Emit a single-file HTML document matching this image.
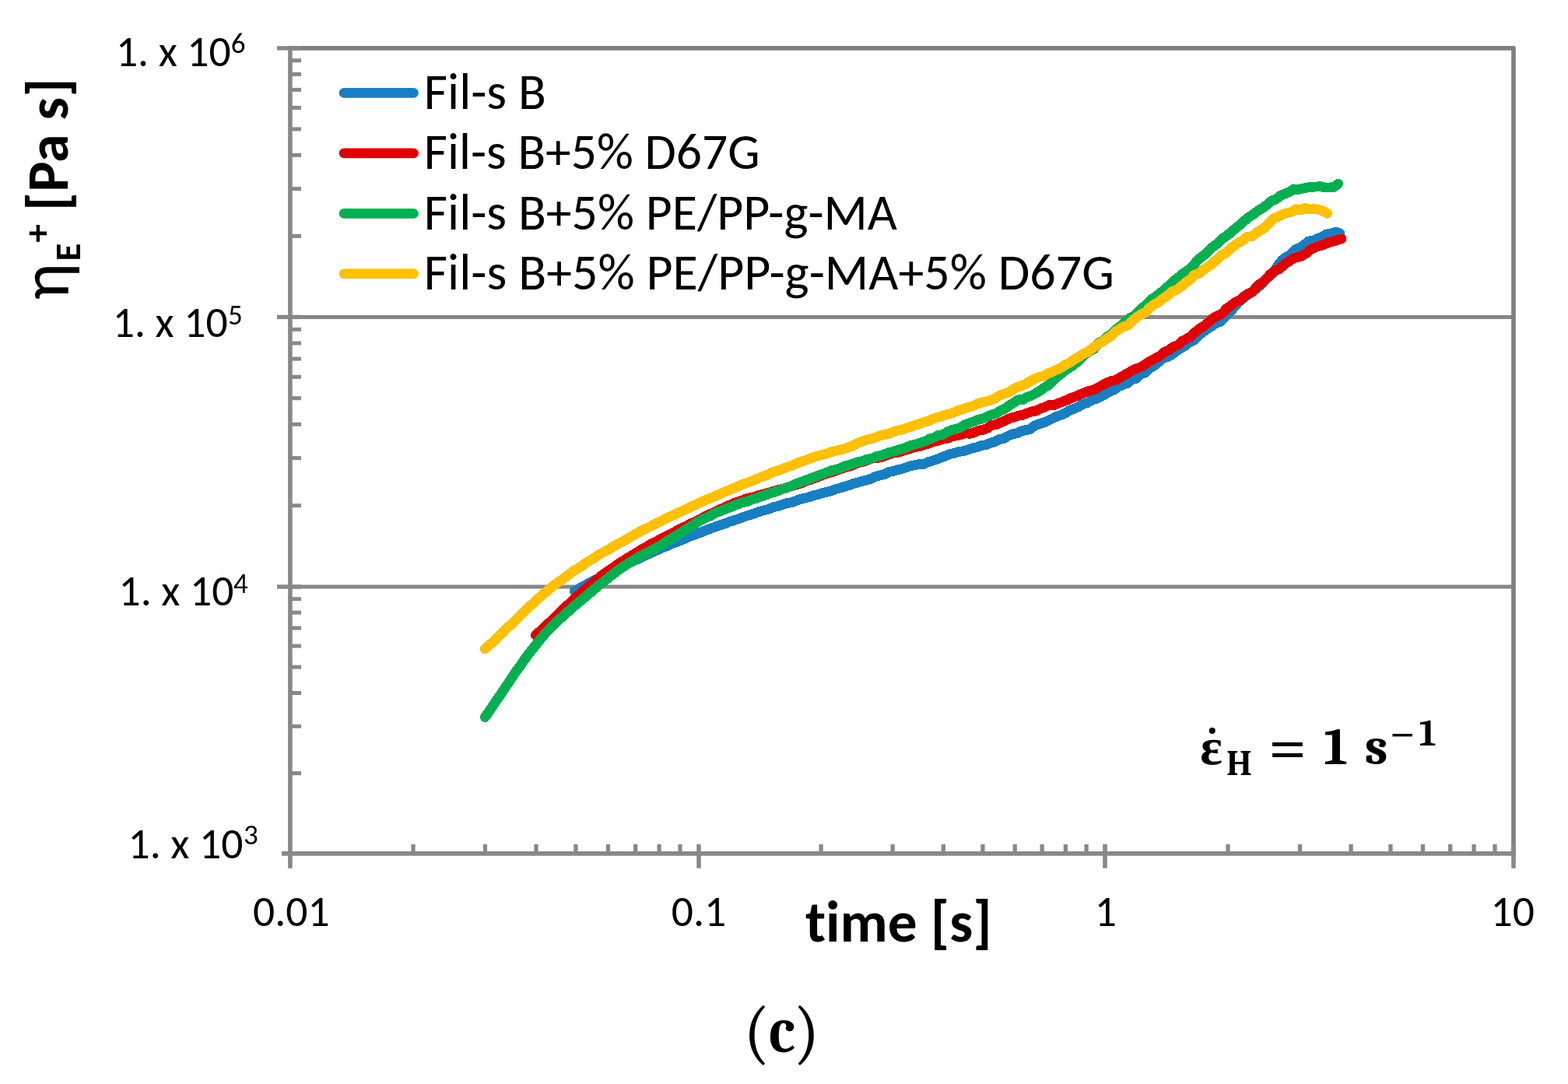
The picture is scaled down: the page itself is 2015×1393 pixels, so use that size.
<!DOCTYPE html>
<html><head><meta charset="utf-8"><title>Transient extensional viscosity</title>
<style>html,body{margin:0;padding:0;background:#fff;overflow:hidden} svg{display:block}</style>
</head><body>
<svg width="2015" height="1393" viewBox="0 0 2015 1393">
<rect x="0" y="0" width="2015" height="1393" fill="#ffffff"/>
<line x1="372.9" y1="407.4" x2="1945" y2="407.4" stroke="#878787" stroke-width="5"/>
<line x1="372.9" y1="754.0" x2="1945" y2="754.0" stroke="#878787" stroke-width="5"/>
<path d="M372.9 61.9 H1945 V1096.9" fill="none" stroke="#808080" stroke-width="5.7" stroke-linejoin="round"/>
<path d="M738.3 759.5 L744.0 756.5 L749.7 753.3 L755.4 750.1 L761.0 747.2 L766.7 744.1 L772.4 741.4 L778.1 738.7 L783.8 735.5 L789.5 732.6 L795.1 730.1 L800.8 727.3 L806.5 724.5 L812.2 721.6 L817.9 719.2 L823.6 716.7 L829.2 713.7 L834.9 711.3 L840.6 708.4 L846.3 706.1 L852.0 703.5 L857.7 701.5 L863.3 698.8 L869.0 696.8 L874.7 694.5 L880.4 692.1 L886.1 689.2 L891.8 687.5 L897.4 685.4 L903.1 683.2 L908.8 680.7 L914.5 678.8 L920.2 676.6 L925.9 674.6 L931.5 673.0 L937.2 670.5 L942.9 668.7 L948.6 667.0 L954.3 664.7 L960.0 662.9 L965.7 661.1 L971.3 659.2 L977.0 657.0 L982.7 655.6 L988.4 654.1 L994.1 651.6 L999.8 650.5 L1005.4 648.6 L1011.1 646.7 L1016.8 645.8 L1022.5 643.8 L1028.2 641.5 L1033.9 640.3 L1039.5 638.8 L1045.2 636.9 L1050.9 635.6 L1056.6 633.7 L1062.3 632.3 L1068.0 630.9 L1073.6 628.6 L1079.3 627.2 L1085.0 625.3 L1090.7 623.8 L1096.4 621.6 L1102.1 620.0 L1107.7 618.4 L1113.4 617.1 L1119.1 615.4 L1124.8 612.5 L1130.5 610.9 L1136.2 609.7 L1141.9 606.7 L1147.5 605.5 L1153.2 603.8 L1158.9 602.6 L1164.6 600.7 L1170.3 598.8 L1176.0 597.6 L1181.6 596.6 L1187.3 596.3 L1193.0 593.7 L1198.7 591.9 L1204.4 590.1 L1210.1 587.7 L1215.7 585.7 L1221.4 583.3 L1227.1 582.2 L1232.8 580.3 L1238.5 579.6 L1244.2 577.8 L1249.8 575.8 L1255.5 574.7 L1261.2 572.5 L1266.9 571.7 L1272.6 569.3 L1278.3 567.8 L1283.9 564.7 L1289.6 563.7 L1295.3 560.3 L1301.0 557.9 L1306.7 556.8 L1312.4 554.2 L1318.0 552.6 L1323.7 551.7 L1329.4 547.2 L1335.1 544.9 L1340.8 543.1 L1346.5 540.8 L1352.2 537.9 L1357.8 535.3 L1363.5 533.4 L1369.2 530.7 L1374.9 527.0 L1380.6 525.1 L1386.3 522.5 L1391.9 519.1 L1397.6 517.4 L1403.3 513.9 L1409.0 512.5 L1414.7 509.3 L1420.4 506.5 L1426.0 503.2 L1431.7 500.9 L1437.4 496.6 L1443.1 494.5 L1448.8 492.7 L1454.5 487.6 L1460.1 486.6 L1465.8 480.8 L1471.5 478.9 L1477.2 473.3 L1482.9 470.2 L1488.6 465.5 L1494.2 460.2 L1499.9 459.0 L1505.6 455.9 L1511.3 451.4 L1517.0 447.9 L1522.7 444.5 L1528.4 439.9 L1534.0 437.4 L1539.7 431.4 L1545.4 427.4 L1551.1 422.7 L1556.8 419.3 L1562.5 415.2 L1568.1 413.6 L1573.8 407.3 L1579.5 402.4 L1585.2 395.5 L1590.9 389.0 L1596.6 384.4 L1602.2 379.7 L1607.9 376.1 L1613.6 371.5 L1619.3 367.0 L1625.0 360.8 L1630.7 355.3 L1636.3 350.8 L1642.0 341.3 L1647.7 334.2 L1653.4 330.1 L1659.1 327.0 L1664.8 320.5 L1670.4 318.5 L1676.1 314.5 L1681.8 309.9 L1687.5 309.8 L1693.2 306.6 L1698.9 304.5 L1704.5 301.1 L1710.2 300.3 L1715.9 298.1 L1721.6 299.8" fill="none" stroke="#177FC1" stroke-width="12.8" stroke-linecap="round" stroke-linejoin="round" shape-rendering="crispEdges"/>
<path d="M688.5 816.3 L694.2 810.9 L699.9 806.1 L705.6 800.4 L711.3 795.2 L716.9 789.6 L722.6 784.1 L728.3 778.6 L734.0 773.4 L739.7 768.0 L745.4 762.8 L751.1 757.8 L756.8 753.2 L762.5 748.4 L768.2 743.8 L773.8 739.2 L779.5 734.9 L785.2 731.3 L790.9 727.3 L796.6 723.2 L802.3 719.7 L808.0 716.1 L813.7 712.7 L819.4 709.3 L825.0 705.7 L830.7 702.9 L836.4 699.1 L842.1 696.5 L847.8 693.4 L853.5 690.5 L859.2 687.8 L864.9 684.8 L870.6 681.3 L876.3 678.4 L881.9 676.2 L887.6 672.9 L893.3 670.4 L899.0 667.8 L904.7 664.3 L910.4 661.4 L916.1 659.2 L921.8 656.4 L927.5 653.7 L933.2 651.2 L938.8 648.5 L944.5 646.0 L950.2 644.2 L955.9 642.1 L961.6 640.1 L967.3 639.0 L973.0 637.2 L978.7 635.8 L984.4 634.0 L990.0 632.5 L995.7 630.9 L1001.4 629.3 L1007.1 627.9 L1012.8 625.9 L1018.5 624.4 L1024.2 622.5 L1029.9 621.0 L1035.6 618.0 L1041.3 616.7 L1046.9 614.4 L1052.6 612.3 L1058.3 609.8 L1064.0 608.1 L1069.7 606.5 L1075.4 604.3 L1081.1 602.4 L1086.8 600.4 L1092.5 599.1 L1098.1 596.9 L1103.8 594.3 L1109.5 593.3 L1115.2 591.1 L1120.9 589.0 L1126.6 588.5 L1132.3 587.7 L1138.0 585.5 L1143.7 583.4 L1149.4 581.9 L1155.0 581.2 L1160.7 579.2 L1166.4 577.5 L1172.1 575.8 L1177.8 574.2 L1183.5 573.0 L1189.2 571.2 L1194.9 569.4 L1200.6 567.0 L1206.2 566.2 L1211.9 564.0 L1217.6 563.4 L1223.3 560.7 L1229.0 559.9 L1234.7 558.7 L1240.4 556.7 L1246.1 557.3 L1251.8 555.9 L1257.5 553.3 L1263.1 552.4 L1268.8 550.3 L1274.5 546.2 L1280.2 545.6 L1285.9 542.9 L1291.6 540.6 L1297.3 537.7 L1303.0 536.1 L1308.7 534.2 L1314.4 533.3 L1320.0 530.9 L1325.7 528.9 L1331.4 528.2 L1337.1 524.9 L1342.8 523.2 L1348.5 520.3 L1354.2 520.7 L1359.9 518.3 L1365.6 516.2 L1371.2 514.0 L1376.9 511.4 L1382.6 509.3 L1388.3 506.8 L1394.0 504.5 L1399.7 502.4 L1405.4 501.1 L1411.1 498.0 L1416.8 495.0 L1422.5 492.1 L1428.1 489.4 L1433.8 488.5 L1439.5 485.0 L1445.2 481.8 L1450.9 478.7 L1456.6 475.2 L1462.3 473.1 L1468.0 470.8 L1473.7 466.7 L1479.3 463.6 L1485.0 460.4 L1490.7 457.3 L1496.4 452.4 L1502.1 450.0 L1507.8 445.8 L1513.5 443.6 L1519.2 438.3 L1524.9 435.5 L1530.6 432.3 L1536.2 426.6 L1541.9 422.1 L1547.6 418.6 L1553.3 414.1 L1559.0 408.9 L1564.7 405.9 L1570.4 403.0 L1576.1 396.8 L1581.8 392.8 L1587.5 388.2 L1593.1 385.9 L1598.8 380.8 L1604.5 377.1 L1610.2 374.8 L1615.9 367.3 L1621.6 363.4 L1627.3 358.1 L1633.0 351.9 L1638.7 347.9 L1644.3 345.6 L1650.0 340.1 L1655.7 336.4 L1661.4 332.3 L1667.1 330.6 L1672.8 329.1 L1678.5 325.6 L1684.2 320.7 L1689.9 318.0 L1695.6 315.9 L1701.2 314.5 L1706.9 311.7 L1712.6 310.3 L1718.3 308.7 L1724.0 306.9" fill="none" stroke="#E00000" stroke-width="12.8" stroke-linecap="round" stroke-linejoin="round" shape-rendering="crispEdges"/>
<path d="M623.3 921.7 L629.0 913.5 L634.7 905.0 L640.4 896.7 L646.1 888.4 L651.8 879.8 L657.6 871.3 L663.3 862.7 L669.0 854.9 L674.7 846.6 L680.4 838.9 L686.1 831.9 L691.8 824.7 L697.5 817.8 L703.2 811.1 L708.9 805.4 L714.7 799.7 L720.4 794.5 L726.1 789.7 L731.8 784.3 L737.5 779.3 L743.2 774.4 L748.9 769.8 L754.6 765.0 L760.3 759.9 L766.0 755.3 L771.8 750.3 L777.5 746.0 L783.2 741.5 L788.9 737.1 L794.6 732.5 L800.3 728.8 L806.0 724.9 L811.7 721.4 L817.4 718.1 L823.1 714.7 L828.9 711.6 L834.6 709.0 L840.3 705.7 L846.0 702.6 L851.7 699.4 L857.4 695.3 L863.1 692.0 L868.8 688.5 L874.5 684.9 L880.2 681.1 L886.0 677.8 L891.7 674.1 L897.4 670.4 L903.1 667.3 L908.8 664.7 L914.5 661.9 L920.2 658.6 L925.9 657.0 L931.6 654.4 L937.3 652.4 L943.1 649.8 L948.8 647.8 L954.5 645.6 L960.2 644.6 L965.9 642.0 L971.6 640.6 L977.3 638.1 L983.0 636.5 L988.7 634.0 L994.4 632.5 L1000.2 630.8 L1005.9 628.1 L1011.6 626.7 L1017.3 624.3 L1023.0 621.7 L1028.7 619.7 L1034.4 617.6 L1040.1 615.5 L1045.8 613.3 L1051.5 611.1 L1057.3 609.1 L1063.0 606.8 L1068.7 604.7 L1074.4 603.2 L1080.1 601.6 L1085.8 598.8 L1091.5 597.5 L1097.2 595.5 L1102.9 593.6 L1108.6 592.5 L1114.4 590.2 L1120.1 589.3 L1125.8 586.7 L1131.5 585.4 L1137.2 583.4 L1142.9 581.4 L1148.6 580.3 L1154.3 578.1 L1160.0 576.7 L1165.7 574.5 L1171.4 572.2 L1177.2 570.7 L1182.9 568.8 L1188.6 567.3 L1194.3 564.2 L1200.0 562.5 L1205.7 559.5 L1211.4 558.5 L1217.1 555.3 L1222.8 552.6 L1228.5 551.3 L1234.3 549.6 L1240.0 545.8 L1245.7 543.7 L1251.4 541.7 L1257.1 539.3 L1262.8 538.1 L1268.5 535.2 L1274.2 533.0 L1279.9 531.3 L1285.6 527.7 L1291.4 525.3 L1297.1 521.0 L1302.8 517.4 L1308.5 513.9 L1314.2 513.8 L1319.9 510.2 L1325.6 508.3 L1331.3 505.3 L1337.0 501.8 L1342.7 497.6 L1348.5 494.5 L1354.2 487.9 L1359.9 483.0 L1365.6 478.9 L1371.3 474.1 L1377.0 471.0 L1382.7 466.5 L1388.4 460.6 L1394.1 455.7 L1399.8 451.8 L1405.6 448.5 L1411.3 440.7 L1417.0 438.6 L1422.7 432.7 L1428.4 429.7 L1434.1 423.4 L1439.8 419.3 L1445.5 413.6 L1451.2 409.3 L1456.9 406.4 L1462.7 401.2 L1468.4 395.5 L1474.1 390.3 L1479.8 384.6 L1485.5 381.0 L1491.2 376.5 L1496.9 371.6 L1502.6 366.7 L1508.3 360.9 L1514.0 356.9 L1519.8 352.0 L1525.5 348.2 L1531.2 343.7 L1536.9 336.9 L1542.6 331.4 L1548.3 327.0 L1554.0 321.5 L1559.7 316.4 L1565.4 312.1 L1571.1 306.3 L1576.9 303.0 L1582.6 297.6 L1588.3 293.3 L1594.0 288.3 L1599.7 283.3 L1605.4 278.7 L1611.1 275.1 L1616.8 270.6 L1622.5 267.3 L1628.2 263.2 L1634.0 258.1 L1639.7 256.0 L1645.4 251.3 L1651.1 249.1 L1656.8 246.9 L1662.5 242.9 L1668.2 243.5 L1673.9 242.2 L1679.6 241.0 L1685.3 240.2 L1691.1 240.1 L1696.8 239.6 L1702.5 241.0 L1708.2 241.0 L1713.9 240.5 L1719.6 236.2" fill="none" stroke="#00B050" stroke-width="12.8" stroke-linecap="round" stroke-linejoin="round" shape-rendering="crispEdges"/>
<path d="M623.3 834.0 L629.0 828.9 L634.7 823.6 L640.4 818.2 L646.1 812.9 L651.8 807.0 L657.5 801.8 L663.2 796.2 L668.9 790.7 L674.6 785.2 L680.3 779.6 L686.0 774.3 L691.6 769.3 L697.3 764.3 L703.0 759.4 L708.7 754.5 L714.4 750.4 L720.1 746.3 L725.8 742.1 L731.5 738.0 L737.2 733.7 L742.9 730.4 L748.6 726.5 L754.3 722.4 L760.0 719.4 L765.7 715.4 L771.4 712.0 L777.1 708.7 L782.8 705.8 L788.5 702.1 L794.2 699.0 L799.9 696.1 L805.6 692.9 L811.3 689.4 L817.0 686.3 L822.7 683.0 L828.3 680.1 L834.0 677.5 L839.7 674.5 L845.4 671.6 L851.1 669.0 L856.8 665.8 L862.5 663.2 L868.2 660.7 L873.9 658.0 L879.6 655.4 L885.3 652.6 L891.0 649.9 L896.7 647.5 L902.4 644.6 L908.1 641.9 L913.8 640.0 L919.5 637.4 L925.2 635.0 L930.9 632.1 L936.6 630.1 L942.3 627.6 L948.0 625.2 L953.7 622.5 L959.4 620.7 L965.0 618.7 L970.7 616.3 L976.4 613.8 L982.1 611.7 L987.8 609.6 L993.5 606.4 L999.2 604.9 L1004.9 602.9 L1010.6 600.7 L1016.3 598.8 L1022.0 596.5 L1027.7 594.1 L1033.4 592.0 L1039.1 590.1 L1044.8 587.7 L1050.5 586.0 L1056.2 584.5 L1061.9 583.1 L1067.6 580.9 L1073.3 579.5 L1079.0 578.2 L1084.7 577.0 L1090.4 574.7 L1096.1 573.0 L1101.7 569.6 L1107.4 567.5 L1113.1 565.4 L1118.8 564.1 L1124.5 562.6 L1130.2 560.0 L1135.9 558.7 L1141.6 557.6 L1147.3 555.4 L1153.0 553.2 L1158.7 552.6 L1164.4 550.4 L1170.1 548.6 L1175.8 546.2 L1181.5 545.0 L1187.2 542.4 L1192.9 541.2 L1198.6 538.3 L1204.3 536.4 L1210.0 535.1 L1215.7 532.8 L1221.4 531.7 L1227.1 529.5 L1232.7 527.0 L1238.4 525.6 L1244.1 523.4 L1249.8 522.1 L1255.5 519.2 L1261.2 517.2 L1266.9 516.1 L1272.6 514.5 L1278.3 512.1 L1284.0 508.5 L1289.7 506.2 L1295.4 504.6 L1301.1 500.9 L1306.8 497.8 L1312.5 495.9 L1318.2 493.5 L1323.9 490.0 L1329.6 486.9 L1335.3 484.5 L1341.0 483.5 L1346.7 479.9 L1352.4 477.7 L1358.1 475.1 L1363.8 472.4 L1369.4 468.6 L1375.1 466.0 L1380.8 461.6 L1386.5 458.5 L1392.2 454.5 L1397.9 452.4 L1403.6 447.8 L1409.3 443.5 L1415.0 439.9 L1420.7 436.1 L1426.4 432.9 L1432.1 427.0 L1437.8 423.4 L1443.5 419.9 L1449.2 418.1 L1454.9 412.7 L1460.6 407.7 L1466.3 404.2 L1472.0 401.2 L1477.7 395.2 L1483.4 390.9 L1489.1 388.1 L1494.8 383.4 L1500.5 379.5 L1506.1 374.4 L1511.8 372.5 L1517.5 368.4 L1523.2 363.4 L1528.9 359.6 L1534.6 353.2 L1540.3 351.6 L1546.0 346.8 L1551.7 343.2 L1557.4 339.2 L1563.1 334.0 L1568.8 328.3 L1574.5 325.6 L1580.2 320.0 L1585.9 316.1 L1591.6 312.0 L1597.3 308.9 L1603.0 303.9 L1608.7 304.0 L1614.4 299.2 L1620.1 295.8 L1625.8 292.2 L1631.5 286.2 L1637.2 280.7 L1642.8 278.4 L1648.5 275.3 L1654.2 273.7 L1659.9 272.3 L1665.6 268.7 L1671.3 270.1 L1677.0 267.4 L1682.7 269.1 L1688.4 268.7 L1694.1 269.2 L1699.8 271.2 L1705.5 274.3" fill="none" stroke="#FFC000" stroke-width="12.8" stroke-linecap="round" stroke-linejoin="round" shape-rendering="crispEdges"/>
<line x1="372.9" y1="59" x2="372.9" y2="1115.7" stroke="#888888" stroke-width="5.6"/>
<line x1="362" y1="1096.9" x2="1947.8" y2="1096.9" stroke="#888888" stroke-width="5.6"/>
<line x1="356" y1="61.9" x2="387" y2="61.9" stroke="#888888" stroke-width="5.4"/>
<line x1="356" y1="407.4" x2="387" y2="407.4" stroke="#888888" stroke-width="5.4"/>
<line x1="356" y1="754.0" x2="387" y2="754.0" stroke="#888888" stroke-width="5.4"/>
<line x1="372.9" y1="303.4" x2="387" y2="303.4" stroke="#888888" stroke-width="5"/>
<line x1="372.9" y1="242.6" x2="387" y2="242.6" stroke="#888888" stroke-width="5"/>
<line x1="372.9" y1="199.4" x2="387" y2="199.4" stroke="#888888" stroke-width="5"/>
<line x1="372.9" y1="165.9" x2="387" y2="165.9" stroke="#888888" stroke-width="5"/>
<line x1="372.9" y1="138.5" x2="387" y2="138.5" stroke="#888888" stroke-width="5"/>
<line x1="372.9" y1="115.4" x2="387" y2="115.4" stroke="#888888" stroke-width="5"/>
<line x1="372.9" y1="95.4" x2="387" y2="95.4" stroke="#888888" stroke-width="5"/>
<line x1="372.9" y1="77.7" x2="387" y2="77.7" stroke="#888888" stroke-width="5"/>
<line x1="372.9" y1="649.7" x2="387" y2="649.7" stroke="#888888" stroke-width="5"/>
<line x1="372.9" y1="588.6" x2="387" y2="588.6" stroke="#888888" stroke-width="5"/>
<line x1="372.9" y1="545.3" x2="387" y2="545.3" stroke="#888888" stroke-width="5"/>
<line x1="372.9" y1="511.7" x2="387" y2="511.7" stroke="#888888" stroke-width="5"/>
<line x1="372.9" y1="484.3" x2="387" y2="484.3" stroke="#888888" stroke-width="5"/>
<line x1="372.9" y1="461.1" x2="387" y2="461.1" stroke="#888888" stroke-width="5"/>
<line x1="372.9" y1="441.0" x2="387" y2="441.0" stroke="#888888" stroke-width="5"/>
<line x1="372.9" y1="423.3" x2="387" y2="423.3" stroke="#888888" stroke-width="5"/>
<line x1="372.9" y1="993.7" x2="387" y2="993.7" stroke="#888888" stroke-width="5"/>
<line x1="372.9" y1="933.3" x2="387" y2="933.3" stroke="#888888" stroke-width="5"/>
<line x1="372.9" y1="890.5" x2="387" y2="890.5" stroke="#888888" stroke-width="5"/>
<line x1="372.9" y1="857.2" x2="387" y2="857.2" stroke="#888888" stroke-width="5"/>
<line x1="372.9" y1="830.1" x2="387" y2="830.1" stroke="#888888" stroke-width="5"/>
<line x1="372.9" y1="807.1" x2="387" y2="807.1" stroke="#888888" stroke-width="5"/>
<line x1="372.9" y1="787.2" x2="387" y2="787.2" stroke="#888888" stroke-width="5"/>
<line x1="372.9" y1="769.7" x2="387" y2="769.7" stroke="#888888" stroke-width="5"/>
<line x1="898.0" y1="1085" x2="898.0" y2="1115.7" stroke="#888888" stroke-width="5.6"/>
<line x1="1420.0" y1="1085" x2="1420.0" y2="1115.7" stroke="#888888" stroke-width="5.6"/>
<line x1="1945.0" y1="1085" x2="1945.0" y2="1115.7" stroke="#888888" stroke-width="5.6"/>
<line x1="531.0" y1="1085" x2="531.0" y2="1096.9" stroke="#888888" stroke-width="5.3"/>
<line x1="623.4" y1="1085" x2="623.4" y2="1096.9" stroke="#888888" stroke-width="5.3"/>
<line x1="689.0" y1="1085" x2="689.0" y2="1096.9" stroke="#888888" stroke-width="5.3"/>
<line x1="739.9" y1="1085" x2="739.9" y2="1096.9" stroke="#888888" stroke-width="5.3"/>
<line x1="781.5" y1="1085" x2="781.5" y2="1096.9" stroke="#888888" stroke-width="5.3"/>
<line x1="816.7" y1="1085" x2="816.7" y2="1096.9" stroke="#888888" stroke-width="5.3"/>
<line x1="847.1" y1="1085" x2="847.1" y2="1096.9" stroke="#888888" stroke-width="5.3"/>
<line x1="874.0" y1="1085" x2="874.0" y2="1096.9" stroke="#888888" stroke-width="5.3"/>
<line x1="1055.1" y1="1085" x2="1055.1" y2="1096.9" stroke="#888888" stroke-width="5.3"/>
<line x1="1147.1" y1="1085" x2="1147.1" y2="1096.9" stroke="#888888" stroke-width="5.3"/>
<line x1="1212.3" y1="1085" x2="1212.3" y2="1096.9" stroke="#888888" stroke-width="5.3"/>
<line x1="1262.9" y1="1085" x2="1262.9" y2="1096.9" stroke="#888888" stroke-width="5.3"/>
<line x1="1304.2" y1="1085" x2="1304.2" y2="1096.9" stroke="#888888" stroke-width="5.3"/>
<line x1="1339.1" y1="1085" x2="1339.1" y2="1096.9" stroke="#888888" stroke-width="5.3"/>
<line x1="1369.4" y1="1085" x2="1369.4" y2="1096.9" stroke="#888888" stroke-width="5.3"/>
<line x1="1396.1" y1="1085" x2="1396.1" y2="1096.9" stroke="#888888" stroke-width="5.3"/>
<line x1="1578.0" y1="1085" x2="1578.0" y2="1096.9" stroke="#888888" stroke-width="5.3"/>
<line x1="1670.5" y1="1085" x2="1670.5" y2="1096.9" stroke="#888888" stroke-width="5.3"/>
<line x1="1736.1" y1="1085" x2="1736.1" y2="1096.9" stroke="#888888" stroke-width="5.3"/>
<line x1="1787.0" y1="1085" x2="1787.0" y2="1096.9" stroke="#888888" stroke-width="5.3"/>
<line x1="1828.5" y1="1085" x2="1828.5" y2="1096.9" stroke="#888888" stroke-width="5.3"/>
<line x1="1863.7" y1="1085" x2="1863.7" y2="1096.9" stroke="#888888" stroke-width="5.3"/>
<line x1="1894.1" y1="1085" x2="1894.1" y2="1096.9" stroke="#888888" stroke-width="5.3"/>
<line x1="1921.0" y1="1085" x2="1921.0" y2="1096.9" stroke="#888888" stroke-width="5.3"/>
<text x="148.9" y="84.9" font-family="Carlito, 'Liberation Sans', sans-serif" font-size="55.6" fill="#000" textLength="147.78" lengthAdjust="spacingAndGlyphs">1. x 10</text>
<text x="296.8" y="67.5" font-family="Carlito, 'Liberation Sans', sans-serif" font-size="37" fill="#000" textLength="18.77" lengthAdjust="spacingAndGlyphs">6</text>
<text x="144.8" y="432.9" font-family="Carlito, 'Liberation Sans', sans-serif" font-size="55.6" fill="#000" textLength="147.78" lengthAdjust="spacingAndGlyphs">1. x 10</text>
<text x="293.0" y="416.8" font-family="Carlito, 'Liberation Sans', sans-serif" font-size="37" fill="#000" textLength="18.77" lengthAdjust="spacingAndGlyphs">5</text>
<text x="152.6" y="777.9" font-family="Carlito, 'Liberation Sans', sans-serif" font-size="55.6" fill="#000" textLength="147.78" lengthAdjust="spacingAndGlyphs">1. x 10</text>
<text x="300.0" y="762.0" font-family="Carlito, 'Liberation Sans', sans-serif" font-size="37" fill="#000" textLength="18.77" lengthAdjust="spacingAndGlyphs">4</text>
<text x="164.6" y="1102.7" font-family="Carlito, 'Liberation Sans', sans-serif" font-size="55.6" fill="#000" textLength="147.78" lengthAdjust="spacingAndGlyphs">1. x 10</text>
<text x="313.0" y="1085.2" font-family="Carlito, 'Liberation Sans', sans-serif" font-size="37" fill="#000" textLength="18.77" lengthAdjust="spacingAndGlyphs">3</text>
<text x="325.0" y="1190" font-family="Carlito, 'Liberation Sans', sans-serif" font-size="55.6" fill="#000" textLength="98.58" lengthAdjust="spacingAndGlyphs">0.01</text>
<text x="862.8" y="1190" font-family="Carlito, 'Liberation Sans', sans-serif" font-size="55.6" fill="#000" textLength="70.39" lengthAdjust="spacingAndGlyphs">0.1</text>
<text x="1406.8" y="1190" font-family="Carlito, 'Liberation Sans', sans-serif" font-size="55.6" fill="#000" textLength="28.19" lengthAdjust="spacingAndGlyphs">1</text>
<text x="1915.5" y="1190" font-family="Carlito, 'Liberation Sans', sans-serif" font-size="55.6" fill="#000" textLength="56.36" lengthAdjust="spacingAndGlyphs">10</text>
<text x="1035" y="1209.9" font-family="Carlito, 'Liberation Sans', sans-serif" font-weight="bold" font-size="75.3" style="font-variant-ligatures:none;font-feature-settings:'liga' 0" fill="#000" textLength="239.72" lengthAdjust="spacingAndGlyphs">time [s]</text>
<g transform="translate(87.5,383.4) rotate(-90)" font-family="Carlito, 'Liberation Sans', sans-serif" fill="#000"><text x="-2" y="0" font-size="88" textLength="47.27" lengthAdjust="spacingAndGlyphs">η</text><text x="47.9" y="15.3" font-weight="bold" font-size="47" textLength="22.94" lengthAdjust="spacingAndGlyphs">E</text><text x="71.8" y="-23.5" font-weight="bold" font-size="47" textLength="23.42" lengthAdjust="spacingAndGlyphs">+</text><text x="112.5" y="-0.5" font-weight="bold" font-size="74" textLength="98.50" lengthAdjust="spacingAndGlyphs">[Pa</text><text x="229" y="-0.5" font-weight="bold" font-size="74" textLength="29.53" lengthAdjust="spacingAndGlyphs">s</text><text x="259" y="-0.5" font-weight="bold" font-size="74" textLength="24.03" lengthAdjust="spacingAndGlyphs">]</text></g>
<line x1="442" y1="119.4" x2="531.5" y2="119.4" stroke="#177FC1" stroke-width="12.6" stroke-linecap="round"/>
<text x="544.8" y="139.9" font-family="Carlito, 'Liberation Sans', sans-serif" font-size="65.8" fill="#000" textLength="156.98" lengthAdjust="spacingAndGlyphs">Fil-s B</text>
<line x1="442" y1="196.9" x2="531.5" y2="196.9" stroke="#E00000" stroke-width="12.6" stroke-linecap="round"/>
<text x="544.8" y="217.4" font-family="Carlito, 'Liberation Sans', sans-serif" font-size="65.8" fill="#000" textLength="431.8" lengthAdjust="spacingAndGlyphs">Fil-s B+5% D67G</text>
<line x1="442" y1="274.4" x2="531.5" y2="274.4" stroke="#00B050" stroke-width="12.6" stroke-linecap="round"/>
<text x="544.8" y="294.9" font-family="Carlito, 'Liberation Sans', sans-serif" font-size="65.8" fill="#000" textLength="608.14" lengthAdjust="spacingAndGlyphs">Fil-s B+5% PE/PP-g-MA</text>
<line x1="442" y1="351.9" x2="531.5" y2="351.9" stroke="#FFC000" stroke-width="12.6" stroke-linecap="round"/>
<text x="544.8" y="372.4" font-family="Carlito, 'Liberation Sans', sans-serif" font-size="65.8" fill="#000" textLength="887.0" lengthAdjust="spacingAndGlyphs">Fil-s B+5% PE/PP-g-MA+5% D67G</text>
<text x="1542.3" y="982.1" font-family="'Liberation Serif', serif" font-weight="bold" font-size="67" fill="#000" textLength="28.64" lengthAdjust="spacingAndGlyphs">ε</text>
<circle cx="1557.8" cy="939.1" r="4" fill="#000"/>
<text x="1576" y="996" font-family="Caladea, 'Liberation Serif', serif" font-weight="bold" font-size="46" fill="#000" textLength="33.08" lengthAdjust="spacingAndGlyphs">H</text>
<text x="1629.6" y="990.5" font-family="Caladea, 'Liberation Serif', serif" font-size="96" textLength="50" lengthAdjust="spacingAndGlyphs" fill="#000">=</text>
<text x="1701.3" y="982.1" font-family="Caladea, 'Liberation Serif', serif" font-weight="bold" font-size="67" fill="#000" textLength="30.69" lengthAdjust="spacingAndGlyphs">1</text>
<text x="1753.7" y="982.1" font-family="Caladea, 'Liberation Serif', serif" font-weight="bold" font-size="67" fill="#000" textLength="29.75" lengthAdjust="spacingAndGlyphs">s</text>
<text x="1784.6" y="963.2" font-family="Caladea, 'Liberation Serif', serif" font-size="64" fill="#000" textLength="35.47" lengthAdjust="spacingAndGlyphs">−</text>
<text x="1823.8" y="957.8" font-family="Caladea, 'Liberation Serif', serif" font-weight="bold" font-size="47.7" fill="#000" textLength="21.84" lengthAdjust="spacingAndGlyphs">1</text>
<text x="955" y="1356" font-family="Caladea, 'Liberation Serif', serif" font-size="91" fill="#000" textLength="34.77" lengthAdjust="spacingAndGlyphs">(</text>
<text transform="translate(988,1352.3) scale(0.885,1)" font-family="Caladea, 'Liberation Serif', serif" font-weight="bold" font-size="84" fill="#000" textLength="37.79" lengthAdjust="spacingAndGlyphs">c</text>
<text x="1019" y="1356" font-family="Caladea, 'Liberation Serif', serif" font-size="91" fill="#000" textLength="34.77" lengthAdjust="spacingAndGlyphs">)</text>
</svg>
</body></html>
